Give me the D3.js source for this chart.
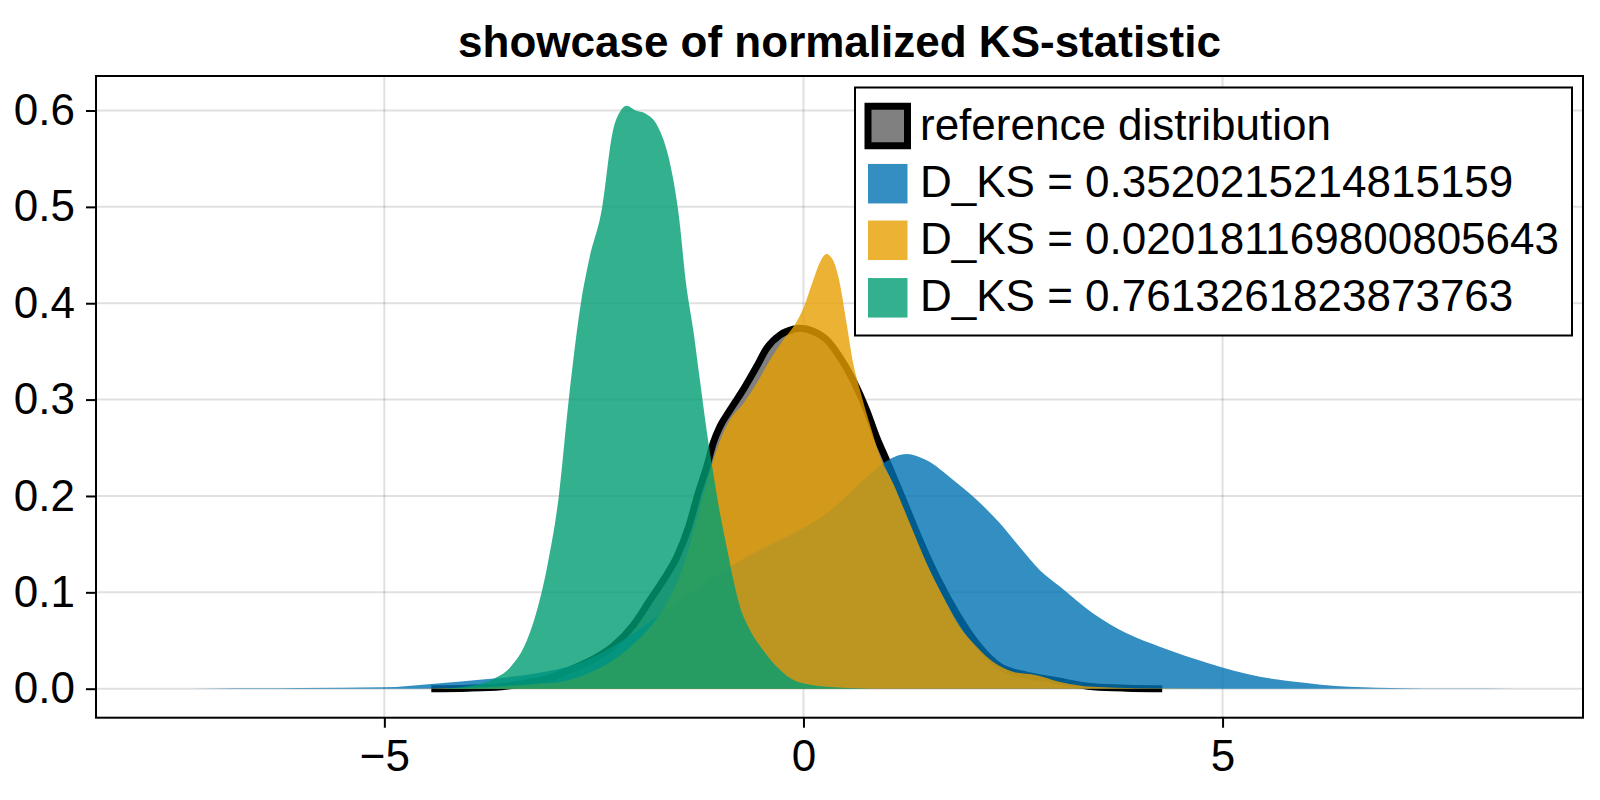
<!DOCTYPE html>
<html>
<head>
<meta charset="utf-8">
<script src="https://cdn.jsdelivr.net/npm/d3@7"></script>
<style>
  html, body { margin: 0; padding: 0; background: #fff; }
  svg { display: block; }
  text { font-family: "Liberation Sans", Arial, Helvetica, sans-serif; }
</style>
</head>
<body>
<svg id="chart" width="1600" height="800"></svg>
<script>
// ---------------- data ----------------
const titleText = "showcase of normalized KS-statistic";
const xTicks = [-5, 0, 5];
const yTicks = [0.0, 0.1, 0.2, 0.3, 0.4, 0.5, 0.6];
const yTickLabels = ["0.0", "0.1", "0.2", "0.3", "0.4", "0.5", "0.6"];
const xLimits = [-8.44, 9.30];
const yLimits = [-0.0301, 0.6358];

const seriesNames = [
  "reference distribution",
  "D_KS = 0.3520215214815159",
  "D_KS = 0.020181169800805643",
  "D_KS = 0.7613261823873763"
];

const refX = [-4.44, -4.0, -3.6, -3.3, -3.0, -2.75, -2.5, -2.27, -2.03, -1.83, -1.67, -1.51, -1.37, -1.255, -1.155, -1.076, -0.996, -0.877, -0.70, -0.56, -0.44, -0.28, -0.12, -0.04, 0.117, 0.277, 0.435, 0.594, 0.754, 0.873, 0.992, 1.19, 1.39, 1.589, 1.827, 2.066, 2.344, 2.66, 2.98, 3.456, 3.85, 4.28];
const refY = [0.0, 0.0005, 0.002, 0.006, 0.012, 0.021, 0.031, 0.044, 0.066, 0.092, 0.113, 0.137, 0.168, 0.203, 0.230, 0.255, 0.272, 0.289, 0.313, 0.334, 0.353, 0.367, 0.373, 0.374, 0.371, 0.362, 0.344, 0.320, 0.289, 0.261, 0.237, 0.196, 0.154, 0.116, 0.078, 0.047, 0.023, 0.014, 0.009, 0.002, 0.0005, 0.0];

const blueX = [-7.63, -7.0, -6.0, -5.0, -4.44, -3.8, -3.19, -2.70, -2.28, -1.97, -1.5, -0.877, -0.519, -0.12, 0.277, 0.674, 0.952, 1.23, 1.47, 1.787, 2.066, 2.344, 2.58, 2.82, 3.06, 3.456, 3.855, 4.25, 4.85, 5.445, 6.0, 6.35, 7.0, 7.8, 8.49];
const blueY = [0, 0.0003, 0.0008, 0.0015, 0.005, 0.0097, 0.016, 0.026, 0.0436, 0.061, 0.09, 0.1266, 0.144, 0.161, 0.182, 0.213, 0.234, 0.2435, 0.237, 0.2165, 0.196, 0.1716, 0.147, 0.123, 0.106, 0.078, 0.0575, 0.0436, 0.026, 0.0125, 0.006, 0.0028, 0.0008, 0.0001, 0];

const orangeX = [-4.6, -4.0, -3.5, -3.2, -2.90, -2.51, -2.11, -1.83, -1.59, -1.434, -1.274, -1.155, -1.035, -0.877, -0.718, -0.558, -0.40, -0.24, -0.12, 0.0, 0.117, 0.20, 0.274, 0.35, 0.435, 0.515, 0.594, 0.674, 0.80, 0.912, 1.07, 1.27, 1.47, 1.667, 1.867, 2.066, 2.26, 2.50, 2.78, 3.06, 3.45, 4.0, 5.0];
const orangeY = [0, 0.001, 0.003, 0.005, 0.007, 0.018, 0.040, 0.064, 0.095, 0.127, 0.175, 0.213, 0.248, 0.279, 0.296, 0.317, 0.341, 0.362, 0.3755, 0.395, 0.424, 0.443, 0.451, 0.445, 0.420, 0.379, 0.3375, 0.31, 0.272, 0.241, 0.213, 0.1716, 0.130, 0.0955, 0.064, 0.0436, 0.028, 0.0176, 0.014, 0.007, 0.002, 0.0005, 0];

const greenX = [-4.3, -3.9, -3.7, -3.5, -3.3, -3.19, -3.05, -2.92, -2.80, -2.65, -2.56, -2.40, -2.28, -2.18, -2.11, -2.0, -1.886, -1.735, -1.61, -1.49, -1.40, -1.314, -1.235, -1.155, -1.076, -0.996, -0.916, -0.837, -0.757, -0.638, -0.48, -0.32, -0.16, 0.078, 0.47, 0.8];
const greenY = [0, 0.004, 0.01, 0.022, 0.05, 0.078, 0.13, 0.199, 0.30, 0.403, 0.444, 0.50, 0.576, 0.600, 0.605, 0.600, 0.597, 0.583, 0.552, 0.493, 0.42, 0.372, 0.320, 0.268, 0.2235, 0.182, 0.147, 0.113, 0.085, 0.061, 0.040, 0.023, 0.011, 0.004, 0.001, 0];

const seriesColors = ["#808080", "#0072B2", "#E69F00", "#009E73"];
const fillAlpha = 0.8;

// ---------------- layout ----------------
const W = 1600, H = 800;
const plot = { left: 96, right: 1583, top: 76, bottom: 717.7 };
const FS = 44;

const svg = d3.select("#chart");
const x = d3.scaleLinear().domain(xLimits).range([plot.left, plot.right]);
const y = d3.scaleLinear().domain(yLimits).range([plot.bottom, plot.top]);

svg.append("rect").attr("width", W).attr("height", H).attr("fill", "#fff");

svg.append("defs").append("clipPath").attr("id", "clip")
  .append("rect")
  .attr("x", plot.left).attr("y", plot.top)
  .attr("width", plot.right - plot.left).attr("height", plot.bottom - plot.top);

// grid
const grid = svg.append("g");
grid.selectAll("line.gx").data(xTicks).join("line")
  .attr("x1", d => x(d)).attr("x2", d => x(d))
  .attr("y1", plot.top).attr("y2", plot.bottom)
  .attr("stroke", "rgba(0,0,0,0.12)").attr("stroke-width", 2);
grid.selectAll("line.gy").data(yTicks).join("line")
  .attr("y1", d => y(d)).attr("y2", d => y(d))
  .attr("x1", plot.left).attr("x2", plot.right)
  .attr("stroke", "rgba(0,0,0,0.12)").attr("stroke-width", 2);

// marks
const g = svg.append("g").attr("clip-path", "url(#clip)");
const zip = (xs, ys) => xs.map((v, i) => [v, ys[i]]);
const area = d3.area().x(d => x(d[0])).y0(y(0)).y1(d => y(d[1])).curve(d3.curveMonotoneX);
const line = d3.line().x(d => x(d[0])).y(d => y(d[1])).curve(d3.curveMonotoneX);

const refData = zip(refX, refY);
g.append("path").datum(refData).attr("d", area).attr("fill", seriesColors[0]);
g.append("path").datum(refData).attr("d", line)
  .attr("fill", "none").attr("stroke", "#000").attr("stroke-width", 7)
  .attr("stroke-linejoin", "round").attr("stroke-linecap", "butt");

[[blueX, blueY, 1], [orangeX, orangeY, 2], [greenX, greenY, 3]].forEach(([xs, ys, ci]) => {
  g.append("path").datum(zip(xs, ys)).attr("d", area)
    .attr("fill", seriesColors[ci]).attr("fill-opacity", fillAlpha);
});

// frame
svg.append("rect")
  .attr("x", plot.left).attr("y", plot.top)
  .attr("width", plot.right - plot.left).attr("height", plot.bottom - plot.top)
  .attr("fill", "none").attr("stroke", "#000").attr("stroke-width", 2);

// axes ticks
const xAxis = d3.axisBottom(x).tickValues(xTicks).tickSize(10).tickPadding(12)
  .tickFormat(d => d < 0 ? "\u2212" + Math.abs(d) : String(d));
const gx = svg.append("g").attr("transform", `translate(0,${plot.bottom})`).call(xAxis);
gx.select(".domain").remove();
gx.selectAll(".tick line").attr("stroke", "#000").attr("stroke-width", 2);
gx.selectAll(".tick text").attr("font-size", FS).attr("fill", "#000")
  .attr("font-family", "Liberation Sans, Arial, sans-serif");

const yAxis = d3.axisLeft(y).tickValues(yTicks).tickSize(10).tickPadding(11)
  .tickFormat((d, i) => yTickLabels[i]);
const gy = svg.append("g").attr("transform", `translate(${plot.left},0)`).call(yAxis);
gy.select(".domain").remove();
gy.selectAll(".tick line").attr("stroke", "#000").attr("stroke-width", 2);
gy.selectAll(".tick text").attr("font-size", FS).attr("fill", "#000")
  .attr("font-family", "Liberation Sans, Arial, sans-serif");

// title
svg.append("text")
  .attr("x", (plot.left + plot.right) / 2).attr("y", 57)
  .attr("text-anchor", "middle").attr("font-size", FS).attr("font-weight", "bold")
  .text(titleText);

// legend
const leg = { x: 855, y: 87.5, w: 717, h: 248 };
const lg = svg.append("g");
lg.append("rect").attr("x", leg.x).attr("y", leg.y).attr("width", leg.w).attr("height", leg.h)
  .attr("fill", "#fff").attr("stroke", "#000").attr("stroke-width", 2);
const rowY = [126, 183.7, 240.3, 297.8];
const patch = 39.5;
seriesNames.forEach((name, i) => {
  const r = lg.append("rect")
    .attr("x", 868).attr("y", rowY[i] - patch / 2)
    .attr("width", patch).attr("height", patch);
  if (i === 0) {
    r.attr("fill", seriesColors[0]).attr("stroke", "#000").attr("stroke-width", 7);
  } else {
    r.attr("fill", seriesColors[i]).attr("fill-opacity", fillAlpha);
  }
  lg.append("text").attr("x", 920).attr("y", rowY[i] - 2)
    .attr("dominant-baseline", "central").attr("font-size", FS)
    .text(name);
});
</script>
</body>
</html>
